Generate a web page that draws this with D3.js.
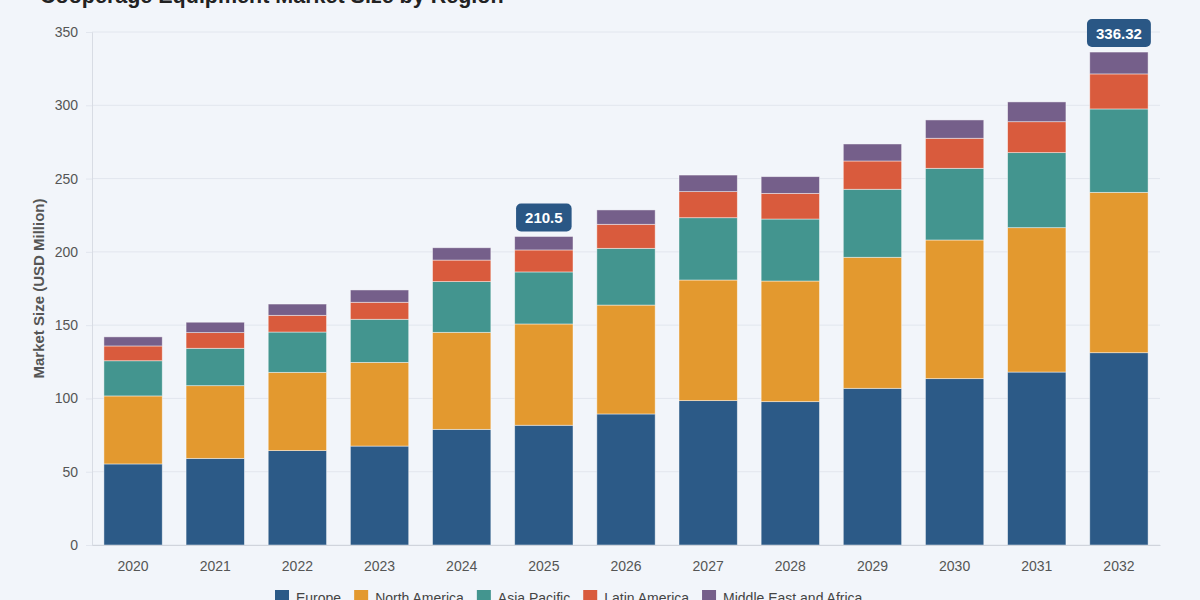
<!DOCTYPE html>
<html>
<head>
<meta charset="utf-8">
<script src="https://cdn.jsdelivr.net/npm/d3@7"></script>
<style>
  html, body { margin: 0; padding: 0; background: #f2f5fa; }
  svg { display: block; font-family: "Liberation Sans", Arial, sans-serif; }
</style>
</head>
<body>
<div id="chart"></div>
<script>
// Dữ liệu
const years = ["2020", "2021", "2022", "2023", "2024", "2025", "2026", "2027", "2028", "2029", "2030", "2031", "2032"];
const regions = ["Europe", "North America", "Asia Pacific", "Latin America", "Middle East and Africa"];
const europe = [55.3, 59.1, 64.4, 67.5, 78.9, 81.7, 89.4, 98.5, 97.8, 106.9, 113.5, 118.0, 131.2];
const northAmerica = [46.4, 49.6, 53.4, 57.1, 66.2, 69.1, 74.3, 82.3, 82.3, 89.4, 94.6, 98.5, 109.4];
const asiaPacific = [24.0, 25.5, 27.5, 29.4, 34.6, 35.5, 38.7, 42.5, 42.3, 46.4, 48.9, 51.2, 56.9];
const latinAmerica = [10.1, 10.7, 11.4, 11.6, 14.7, 15.0, 16.4, 17.8, 17.5, 19.3, 20.5, 21.1, 23.9];
const middleEastAfrica = [6.2, 7.1, 7.7, 8.4, 8.4, 9.2, 9.8, 11.3, 11.4, 11.6, 12.5, 13.5, 14.92];
const yTicks = [0, 50, 100, 150, 200, 250, 300, 350];
const callouts = [{ year: "2025", label: "210.5" }, { year: "2032", label: "336.32" }];

const colors = ["#2c5a87", "#e3992f", "#43958f", "#d95b3d", "#755f8a"];
const series = [europe, northAmerica, asiaPacific, latinAmerica, middleEastAfrica];

// Bảng cho d3.stack
const table = years.map((y, i) => {
    const row = { year: y };
    regions.forEach((r, k) => { row[r] = series[k][i]; });
    return row;
});
const stacked = d3.stack().keys(regions)(table);

const width = 1200, height = 600;
const margin = { top: 32, right: 40, bottom: 55, left: 92 };

const svg = d3.select("#chart").append("svg")
    .attr("width", width)
    .attr("height", height);

const x = d3.scaleBand()
    .domain(years)
    .range([margin.left, width - margin.right])
    .paddingInner(0.29)
    .paddingOuter(0.145);

const y = d3.scaleLinear()
    .domain([0, 350])
    .range([height - margin.bottom, margin.top]);

// Lưới
svg.append("g")
    .selectAll("line")
    .data(yTicks)
    .enter()
    .append("line")
    .attr("x1", margin.left)
    .attr("x2", width - margin.right)
    .attr("y1", d => y(d))
    .attr("y2", d => y(d))
    .attr("stroke", "#e2e6ee")
    .attr("stroke-width", 1);

// Trục Y
const yAxis = svg.append("g")
    .attr("transform", `translate(${margin.left},0)`)
    .call(d3.axisLeft(y).tickValues(yTicks).tickSize(6).tickPadding(8));
yAxis.select(".domain").attr("stroke", "#d8dce4");
yAxis.selectAll(".tick line").attr("stroke", "#e2e6ee");
yAxis.selectAll("text").attr("fill", "#555").attr("font-size", "14px");

// Cột chồng
svg.append("g")
    .selectAll("g")
    .data(stacked)
    .enter()
    .append("g")
    .attr("fill", (d, i) => colors[i])
    .selectAll("rect")
    .data(d => d)
    .enter()
    .append("rect")
    .attr("x", d => x(d.data.year))
    .attr("y", d => y(d[1]))
    .attr("width", x.bandwidth())
    .attr("height", d => y(d[0]) - y(d[1]))
    .attr("stroke", "rgba(255,255,255,0.55)")
    .attr("stroke-width", 0.8);

// Trục X
const xAxis = svg.append("g")
    .attr("transform", `translate(0,${height - margin.bottom})`)
    .call(d3.axisBottom(x).tickSize(0).tickPadding(16));
xAxis.select(".domain").attr("stroke", "#d0d4dc");
xAxis.selectAll("text").attr("fill", "#555").attr("font-size", "14px");

// Nhãn tổng
const totals = table.map(r => d3.sum(regions, k => r[k]));
const badge = svg.append("g")
    .selectAll("g")
    .data(callouts)
    .enter()
    .append("g")
    .attr("transform", d => {
        const i = years.indexOf(d.year);
        return `translate(${x(d.year) + x.bandwidth() / 2},${y(totals[i]) - 5})`;
    });
badge.append("text")
    .attr("text-anchor", "middle")
    .attr("y", -8.5)
    .attr("fill", "#fff")
    .attr("font-size", "15px")
    .attr("font-weight", "bold")
    .text(d => d.label);
badge.each(function () {
    const g = d3.select(this);
    const bb = g.select("text").node().getBBox();
    g.insert("rect", "text")
        .attr("x", bb.x - 9)
        .attr("y", -28)
        .attr("width", bb.width + 18)
        .attr("height", 28)
        .attr("rx", 5)
        .attr("fill", "#2a5785");
});

// Tiêu đề
svg.append("text")
    .attr("x", 40)
    .attr("y", 3)
    .attr("font-size", "21.5px")
    .attr("font-weight", "bold")
    .attr("fill", "#222")
    .text("Cooperage Equipment Market Size by Region");

// Tiêu đề trục Y
svg.append("text")
    .attr("transform", `translate(44,${(y(0) + y(350)) / 2}) rotate(-90)`)
    .attr("text-anchor", "middle")
    .attr("font-size", "15px")
    .attr("font-weight", "bold")
    .attr("fill", "#555")
    .text("Market Size (USD Million)");

// Chú giải
const legend = svg.append("g")
    .attr("transform", "translate(275,590)");
let lx = 0;
regions.forEach((r, i) => {
    const item = legend.append("g").attr("transform", `translate(${lx},0)`);
    item.append("rect")
        .attr("width", 14)
        .attr("height", 14)
        .attr("fill", colors[i]);
    const t = item.append("text")
        .attr("x", 21)
        .attr("y", 12.5)
        .attr("font-size", "14px")
        .attr("fill", "#444")
        .text(r);
    lx += 21 + t.node().getComputedTextLength() + 13;
});
</script>
</body>
</html>
